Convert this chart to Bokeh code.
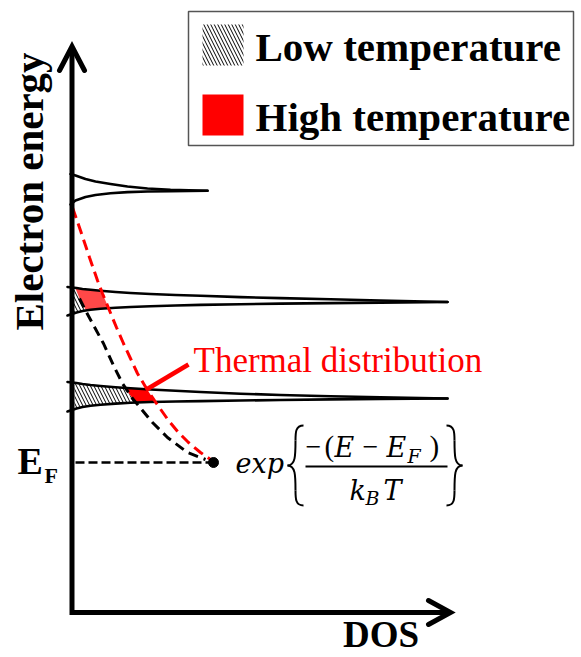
import numpy as np
from bokeh.plotting import figure
from bokeh.models import Range1d
from bokeh.core.properties import value
from bokeh.embed import file_html
from bokeh.resources import INLINE

# ---------------- data (drawing units = px) ----------------
band1_x = [70, 75, 85, 95, 110, 127, 147, 170, 207]
band1_upper = [173.5, 175, 178.5, 181, 183.5, 186, 188, 189.3, 190.3]
band1_lower = [204, 200, 196.5, 194.5, 192.7, 191.6, 191, 190.7, 190.3]

band_x = [67, 76, 82, 90, 100, 115, 130, 150, 175, 200, 240, 280, 330, 380, 447]
band2_upper = [286.5, 287.5, 288.5, 289.3, 290.3, 291.5, 292.5, 293.5, 294.5, 295.3, 296.6, 297.6, 298.8, 300, 301.5]
band2_lower = [315, 312, 310.5, 309.3, 308.3, 307.3, 306.5, 305.7, 305, 304.4, 303.7, 303.1, 302.6, 302.1, 301.5]
band3_upper = [381.5, 382.5, 383.5, 384.5, 385.5, 386.8, 387.8, 389, 390.3, 391.5, 393.2, 394.5, 395.8, 396.8, 398]
band3_lower = [411, 408, 406.5, 405.2, 404.2, 403.1, 402.3, 401.5, 401.0, 400.6, 400.0, 399.5, 398.9, 398.4, 398]

red_curve_x = [72, 80, 89, 97, 102, 109, 116, 123, 130, 137, 146, 156, 168, 178, 188, 200, 210]
red_curve_y = [207, 230, 257, 280, 293, 310, 327, 343, 358, 373, 388, 403, 420, 432, 442, 452, 459]
black_curve_x = [79, 85, 92, 103, 113, 122, 132, 142, 152, 167, 187, 205]
black_curve_y = [298, 310, 323, 343, 365, 383, 398, 410, 422, 437, 452, 459]

hatch_b3_x = [74, 80, 90, 100, 115, 124.5, 130, 135, 130, 115, 100, 90, 82, 76, 74]
hatch_b3_y = [382.8, 383.5, 384.5, 385.5, 386.8, 387.3, 395, 402.2, 402.3, 403.1, 404.2, 405.2, 406.5, 408, 409]
red_b3_x = [124.5, 135, 146.5, 150.5, 155, 145, 135, 130]
red_b3_y = [387.3, 388.1, 388.8, 395, 401.3, 401.8, 402.2, 395]
hatch_b2_x = [73, 75, 79, 85.5, 82, 76, 73]
hatch_b2_y = [287.2, 288, 298, 310, 310.5, 312, 314]
red_b2_x = [75, 82, 90, 101, 104.5, 108.3, 100, 90, 85.5, 79]
red_b2_y = [288, 288.5, 289.3, 290.4, 299, 308.3, 308.3, 309.3, 310, 298]

ef_x = [75, 213]
ef_y = [462, 462]

axis_x = [71.5, 71.5, 449]
axis_y = [47, 612, 612]
yarrow_x = [59, 71.5, 84]
yarrow_y = [70, 46, 70]
xarrow_x = [428, 450, 428]
xarrow_y = [600, 612, 624]

pointer_x = [146, 188]
pointer_y = [389, 364]

legend_labels = ["Low temperature", "High temperature"]

# ---------------- figure ----------------
p = figure(width=581, height=657, x_range=Range1d(0, 581), y_range=Range1d(657, 0),
           output_backend="svg", toolbar_location=None, min_border=0)
p.axis.visible = False
p.grid.visible = False
p.outline_line_color = None
p.background_fill_color = "white"
p.border_fill_color = "white"

K = 0.38  # baseline correction (fraction of font size)


def txt(x, y, s, size, font="Liberation Serif", style="normal", color="black",
        align="left", angle=0.0):
    if angle == 0.0:
        y = [v - K * size for v in y]
    else:
        x = [v - K * size for v in x]
    p.text(x, y, text=s, text_font=value(font), text_font_style=style,
           text_font_size=f"{size}px", text_color=color, text_baseline="alphabetic",
           text_align=align, angle=angle)


# filled regions
HATCH = dict(hatch_pattern="\\", hatch_scale=7, hatch_weight=1.0, hatch_color="black")
p.patch(hatch_b3_x, hatch_b3_y, fill_color="white", line_color=None, **HATCH)
p.patch(hatch_b2_x, hatch_b2_y, fill_color="white", line_color=None, **HATCH)
p.patch(red_b3_x, red_b3_y, fill_color="#ff0000", line_color=None)
p.patch(red_b2_x, red_b2_y, fill_color="#ff4848", line_color=None)

# band curves
for xs, upc, loc in [(band1_x, band1_upper, band1_lower),
                     (band_x, band2_upper, band2_lower),
                     (band_x, band3_upper, band3_lower)]:
    p.line(xs, upc, line_color="black", line_width=2.6, line_cap="round", line_join="round")
    p.line(xs, loc, line_color="black", line_width=2.6, line_cap="round", line_join="round")

p.line(black_curve_x, black_curve_y, line_color="black", line_width=3, line_dash="10 6")
p.line(red_curve_x, red_curve_y, line_color="#ff0000", line_width=3, line_dash="11 6")

p.line(ef_x, ef_y, line_color="black", line_width=2.5, line_dash="9 4")
p.scatter([ef_x[1]], [ef_y[1]], size=10, color="black")

p.line(axis_x, axis_y, line_color="black", line_width=5, line_join="miter")
p.line(yarrow_x, yarrow_y, line_color="black", line_width=5, line_cap="round", line_join="miter")
p.line(xarrow_x, xarrow_y, line_color="black", line_width=5, line_cap="round", line_join="miter")

p.line(pointer_x, pointer_y, line_color="#ff0000", line_width=4.5)
txt([193], [373], ["Thermal distribution"], 35, color="#ff0000")

# axis labels
txt([380.5], [648], ["DOS"], 37, style="bold", align="center")
txt([44], [191], ["Electron energy"], 41, style="bold", align="center", angle=np.pi / 2)
txt([17], [475], ["E"], 38, style="bold")
txt([44], [483], ["F"], 22, style="bold")

# formula exp{ -(E - E_F) / (k_B T) }
MI = "DejaVu Serif"
txt([235], [473], ["exp"], 27, font=MI, style="italic")
txt([305, 362], [457, 457], ["\u2212", "\u2212"], 28)
txt([324, 429], [457, 457], ["(", ")"], 29)
txt([334, 386], [457, 457], ["E", "E"], 27, font=MI, style="italic")
txt([407], [463], ["F"], 19, font=MI, style="italic")
p.line([305, 447], [466, 466], line_color="black", line_width=1.8)
txt([349, 383], [500, 500], ["k", "T"], 27, font=MI, style="italic")
txt([365], [505], ["B"], 19, font=MI, style="italic")
p.bezier(x0=[303, 295, 287, 295], y0=[425, 440, 465, 490],
         x1=[295, 287, 295, 303], y1=[440, 465, 490, 505],
         cx0=[295, 295, 295, 295], cy0=[425, 455, 465, 498],
         cx1=[295, 295, 295, 295], cy1=[432, 465, 475, 505],
         line_color="black", line_width=2)
p.bezier(x0=[446, 454, 462, 454], y0=[425, 440, 465, 490],
         x1=[454, 462, 454, 446], y1=[440, 465, 490, 505],
         cx0=[454, 454, 454, 454], cy0=[425, 455, 465, 498],
         cx1=[454, 454, 454, 454], cy1=[432, 465, 475, 505],
         line_color="black", line_width=2)

# legend
p.quad(left=[188], right=[573], top=[11], bottom=[145], fill_color="white",
       line_color="#555555", line_width=1.5)
p.quad(left=[202], right=[243], top=[24], bottom=[65], fill_color="white", line_color=None, **HATCH)
p.quad(left=[202], right=[243], top=[94], bottom=[135], fill_color="#ff0000", line_color=None)
txt([255, 255], [62, 132], legend_labels, 41, style="bold")

open("out.html", "w").write(file_html(p, INLINE))
